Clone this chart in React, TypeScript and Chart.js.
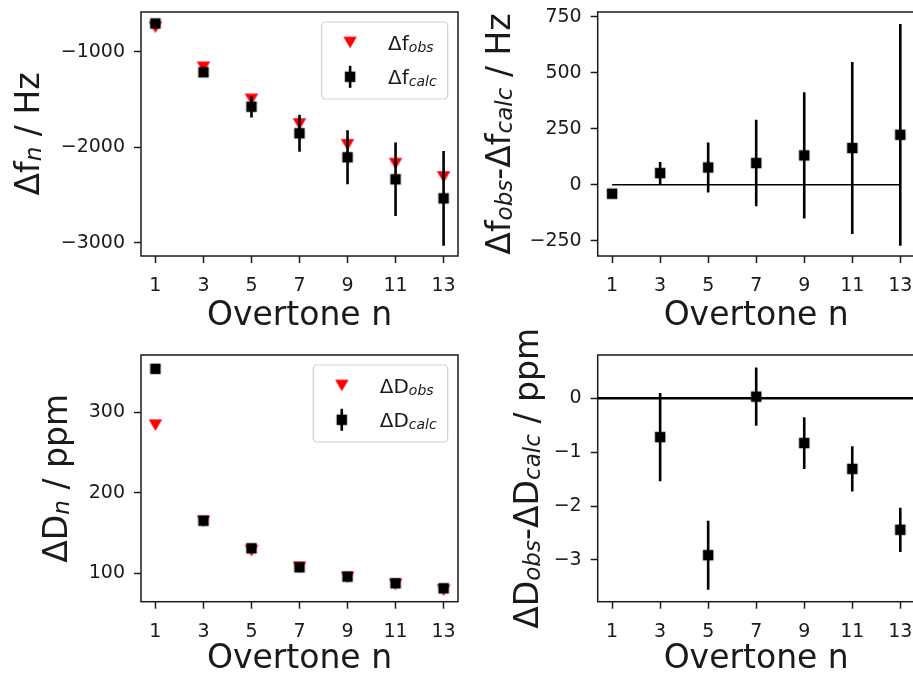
import React, { useEffect, useRef } from "react";
import { Chart, registerables } from "chart.js";

Chart.register(...registerables);

// ---------------------------------------------------------------------------
// Data
// ---------------------------------------------------------------------------
const overtones = [1, 3, 5, 7, 9, 11, 13];

// Frequency shifts (Hz)
const dfObs = [-745, -1163, -1498, -1756, -1973, -2170, -2310];
const dfCalc = [-705, -1215, -1575, -1853, -2104, -2334, -2533];
const dfCalcErr = [12, 50, 112, 193, 282, 384, 495];

// Frequency residuals obs - calc (Hz)
const dfResid = [-40, 52, 77, 97, 131, 164, 223];
const dfResidErr = [12, 50, 112, 193, 282, 384, 495];

// Dissipation shifts (ppm)
const dDObs = [284, 164.6, 128.2, 107.5, 95.0, 86.3, 79.0];
const dDCalc = [354, 165.3, 131.1, 107.5, 95.8, 87.6, 81.4];
const dDCalcErr = [0.9, 0.82, 0.64, 0.54, 0.48, 0.42, 0.41];

// Dissipation residuals obs - calc (ppm); fundamental left out
const dDResidN = [3, 5, 7, 9, 11, 13];
const dDResid = [-0.72, -2.91, 0.03, -0.83, -1.31, -2.44];
const dDResidErr = [0.82, 0.64, 0.54, 0.48, 0.42, 0.41];

// Tick values
const xTicks = [1, 3, 5, 7, 9, 11, 13];
const dfTicks = [-3000, -2000, -1000];
const dfResidTicks = [-250, 0, 250, 500, 750];
const dDTicks = [100, 200, 300];
const dDResidTicks = [-3, -2, -1, 0];

// Text (runs of [text, isSubscript])
type Run = [string, boolean];
const xTitle: Run[] = [["Overtone n", false]];
const dfTitle: Run[] = [["Δf", false], ["n", true], [" / Hz", false]];
const dfResidTitle: Run[] = [["Δf", false], ["obs", true], ["-Δf", false], ["calc", true], [" / Hz", false]];
const dDTitle: Run[] = [["ΔD", false], ["n", true], [" / ppm", false]];
const dDResidTitle: Run[] = [["ΔD", false], ["obs", true], ["-ΔD", false], ["calc", true], [" / ppm", false]];
const dfObsName: Run[] = [["Δf", false], ["obs", true]];
const dfCalcName: Run[] = [["Δf", false], ["calc", true]];
const dDObsName: Run[] = [["ΔD", false], ["obs", true]];
const dDCalcName: Run[] = [["ΔD", false], ["calc", true]];

// ---------------------------------------------------------------------------
// Styling / geometry
// ---------------------------------------------------------------------------
const FONT = '"DejaVu Sans", sans-serif';
const INK = "#1a1a1a";
const PAGE_W = 913;
const PAGE_H = 674;
const CANVAS_W = 930;
const Y_AXIS_W = 100;
const X_AXIS_H = 50;
const TICK_FS = 19;
const TITLE_FS = 33;
const LEGEND_FS = 20;
const X_RANGE: [number, number] = [0.4, 13.6];

type Area = { l: number; t: number; r: number; b: number };
type LegendRow = { runs: Run[]; kind: "tri" | "sq" };

interface Panel {
  area: Area;
  yMin: number;
  yMax: number;
  yTicks: number[];
  yTitle: Run[];
  yTitleX: number;
  xTitleY: number;
  datasets: any[];
  legend?: LegendRow[];
}

// ---------------------------------------------------------------------------
// Marker sprites
// ---------------------------------------------------------------------------
function triangleMarker(): HTMLCanvasElement {
  const c = document.createElement("canvas");
  c.width = 16;
  c.height = 14;
  const g = c.getContext("2d")!;
  const w = 13.5, h = 11.5, cx = 8, cy = 7;
  g.fillStyle = "#ff0000";
  g.beginPath();
  g.moveTo(cx - w / 2, cy - h / 2);
  g.lineTo(cx + w / 2, cy - h / 2);
  g.lineTo(cx, cy + h / 2);
  g.closePath();
  g.fill();
  return c;
}

function squareMarker(): HTMLCanvasElement {
  const c = document.createElement("canvas");
  c.width = 14;
  c.height = 14;
  const g = c.getContext("2d")!;
  const s = 10.5;
  g.fillStyle = "#000000";
  g.fillRect(7 - s / 2, 7 - s / 2, s, s);
  return c;
}

// ---------------------------------------------------------------------------
// Helpers
// ---------------------------------------------------------------------------
const pts = (xs: number[], ys: number[]) => xs.map((x, i) => ({ x, y: ys[i] }));

function errSegments(xs: number[], ys: number[], es: number[]) {
  const out: { x: number; y: number | null }[] = [];
  xs.forEach((x, i) => {
    out.push({ x, y: ys[i] - es[i] }, { x, y: ys[i] + es[i] }, { x, y: null });
  });
  return out;
}

const fmt = (v: number) => (v < 0 ? "\u2212" + Math.abs(v) : String(v));

function setRunFont(ctx: CanvasRenderingContext2D, size: number, sub: boolean) {
  ctx.font = sub ? `italic ${size * 0.7}px ${FONT}` : `${size}px ${FONT}`;
}

function runsWidth(ctx: CanvasRenderingContext2D, runs: Run[], size: number) {
  let w = 0;
  for (const [t, sub] of runs) {
    setRunFont(ctx, size, sub);
    w += ctx.measureText(t).width;
  }
  return w;
}

function drawRuns(ctx: CanvasRenderingContext2D, runs: Run[], size: number, x: number, y: number) {
  let cx = x;
  ctx.textAlign = "left";
  ctx.textBaseline = "alphabetic";
  for (const [t, sub] of runs) {
    setRunFont(ctx, size, sub);
    ctx.fillText(t, cx, y + (sub ? size * 0.07 : 0));
    cx += ctx.measureText(t).width;
  }
}

function roundRectPath(ctx: CanvasRenderingContext2D, x: number, y: number, w: number, h: number, r: number) {
  ctx.beginPath();
  ctx.moveTo(x + r, y);
  ctx.lineTo(x + w - r, y);
  ctx.arcTo(x + w, y, x + w, y + r, r);
  ctx.lineTo(x + w, y + h - r);
  ctx.arcTo(x + w, y + h, x + w - r, y + h, r);
  ctx.lineTo(x + r, y + h);
  ctx.arcTo(x, y + h, x, y + h - r, r);
  ctx.lineTo(x, y + r);
  ctx.arcTo(x, y, x + r, y, r);
  ctx.closePath();
}

function decoPlugin(p: Panel, tri: HTMLCanvasElement, sq: HTMLCanvasElement) {
  return {
    id: "panelDeco",
    afterDatasetsDraw(chart: any) {
      const ctx: CanvasRenderingContext2D = chart.ctx;
      const a = chart.chartArea;
      // axes frame
      ctx.save();
      ctx.strokeStyle = INK;
      ctx.lineWidth = 1.5;
      ctx.strokeRect(a.left, a.top, a.right - a.left, a.bottom - a.top);
      ctx.restore();

      // legend
      if (p.legend) {
        ctx.save();
        const textW = Math.max(...p.legend.map((r) => runsWidth(ctx, r.runs, LEGEND_FS)));
        const right = a.right - 10.3;
        const top = a.top + 10;
        const width = 66.5 + textW + 11;
        const height = 77;
        const left = right - width;
        roundRectPath(ctx, left, top, width, height, 4);
        ctx.fillStyle = "rgba(255,255,255,0.8)";
        ctx.fill();
        ctx.strokeStyle = "#d0d0d0";
        ctx.lineWidth = 1.2;
        ctx.stroke();
        p.legend.forEach((row, i) => {
          const cy = top + 20.5 + i * 34.3;
          const mx = left + 28.5;
          if (row.kind === "tri") {
            ctx.drawImage(tri, mx - tri.width / 2, cy - tri.height / 2);
          } else {
            ctx.strokeStyle = "#000";
            ctx.lineWidth = 2.6;
            ctx.beginPath();
            ctx.moveTo(mx, cy - 11);
            ctx.lineTo(mx, cy + 11);
            ctx.stroke();
            ctx.drawImage(sq, mx - sq.width / 2, cy - sq.height / 2);
          }
          ctx.fillStyle = INK;
          drawRuns(ctx, row.runs, LEGEND_FS, left + 66.5, cy + 0.38 * LEGEND_FS);
        });
        ctx.restore();
      }
    },
    afterDraw(chart: any) {
      const ctx: CanvasRenderingContext2D = chart.ctx;
      const a = chart.chartArea;
      ctx.save();
      ctx.fillStyle = INK;
      // x title
      const xw = runsWidth(ctx, xTitle, TITLE_FS);
      drawRuns(ctx, xTitle, TITLE_FS, (a.left + a.right) / 2 - xw / 2, p.xTitleY);
      // y title (rotated)
      const yw = runsWidth(ctx, p.yTitle, TITLE_FS);
      ctx.translate(p.yTitleX, (a.top + a.bottom) / 2);
      ctx.rotate(-Math.PI / 2);
      drawRuns(ctx, p.yTitle, TITLE_FS, -yw / 2, 0);
      ctx.restore();
    },
  };
}

function makeChart(canvas: HTMLCanvasElement, p: Panel, tri: HTMLCanvasElement, sq: HTMLCanvasElement) {
  const tickFont = { family: FONT, size: TICK_FS };
  const grid = {
    drawOnChartArea: false,
    drawTicks: true,
    tickLength: 7,
    tickWidth: 1.5,
    tickColor: INK,
    color: INK,
  };
  const zeroPad = (s: any) => {
    s.paddingLeft = 0;
    s.paddingRight = 0;
    s.paddingTop = 0;
    s.paddingBottom = 0;
  };
  return new Chart(canvas, {
    type: "scatter",
    data: { datasets: p.datasets },
    options: {
      animation: false,
      responsive: false,
      events: [],
      layout: {
        padding: {
          left: p.area.l - Y_AXIS_W,
          top: p.area.t,
          right: CANVAS_W - p.area.r,
          bottom: PAGE_H - p.area.b - X_AXIS_H,
        },
      },
      plugins: { legend: { display: false }, tooltip: { enabled: false } },
      scales: {
        x: {
          type: "linear",
          position: "bottom",
          bounds: "data",
          min: X_RANGE[0],
          max: X_RANGE[1],
          grid,
          border: { display: false },
          ticks: {
            autoSkip: false,
            maxRotation: 0,
            padding: 12,
            color: INK,
            font: tickFont,
            callback: (v: any) => fmt(Number(v)),
          },
          afterBuildTicks: (s: any) => {
            s.ticks = xTicks.map((value) => ({ value }));
          },
          afterFit: (s: any) => {
            s.height = X_AXIS_H;
            zeroPad(s);
          },
        },
        y: {
          type: "linear",
          position: "left",
          bounds: "data",
          min: p.yMin,
          max: p.yMax,
          grid,
          border: { display: false },
          ticks: {
            autoSkip: false,
            padding: 9,
            color: INK,
            font: tickFont,
            callback: (v: any) => fmt(Number(v)),
          },
          afterBuildTicks: (s: any) => {
            s.ticks = p.yTicks.map((value) => ({ value }));
          },
          afterFit: (s: any) => {
            s.width = Y_AXIS_W;
            zeroPad(s);
          },
        },
      },
    } as any,
    plugins: [decoPlugin(p, tri, sq)],
  });
}

// ---------------------------------------------------------------------------
// Panels
// ---------------------------------------------------------------------------
function errDataset(xs: number[], ys: number[], es: number[]) {
  return {
    data: errSegments(xs, ys, es),
    showLine: true,
    spanGaps: false,
    pointRadius: 0,
    borderColor: "#000",
    borderWidth: 2.6,
    borderCapStyle: "butt",
    order: 2,
  };
}

function markerDataset(xs: number[], ys: number[], sprite: HTMLCanvasElement, order: number) {
  return {
    data: pts(xs, ys),
    pointStyle: sprite,
    pointRadius: 7,
    borderWidth: 0,
    order,
  };
}

function buildPanels(tri: HTMLCanvasElement, sq: HTMLCanvasElement): Panel[] {
  return [
    {
      area: { l: 141, t: 12, r: 458, b: 256 },
      yMin: -3136,
      yMax: -585,
      yTicks: dfTicks,
      yTitle: dfTitle,
      yTitleX: 38.5,
      xTitleY: 325,
      datasets: [
        markerDataset(overtones, dfCalc, sq, 1),
        errDataset(overtones, dfCalc, dfCalcErr),
        markerDataset(overtones, dfObs, tri, 3),
      ],
      legend: [
        { runs: dfObsName, kind: "tri" },
        { runs: dfCalcName, kind: "sq" },
      ],
    },
    {
      area: { l: 597.7, t: 12, r: 914.7, b: 256 },
      yMin: -318,
      yMax: 771,
      yTicks: dfResidTicks,
      yTitle: dfResidTitle,
      yTitleX: 510,
      xTitleY: 325,
      datasets: [
        markerDataset(overtones, dfResid, sq, 1),
        errDataset(overtones, dfResid, dfResidErr),
        {
          data: [
            { x: overtones[0], y: 0 },
            { x: overtones[overtones.length - 1], y: 0 },
          ],
          showLine: true,
          pointRadius: 0,
          borderColor: "#000",
          borderWidth: 1.5,
          order: 3,
        },
      ],
    },
    {
      area: { l: 141, t: 355, r: 458, b: 601.7 },
      yMin: 64.7,
      yMax: 371.2,
      yTicks: dDTicks,
      yTitle: dDTitle,
      yTitleX: 66.5,
      xTitleY: 668,
      datasets: [
        markerDataset(overtones, dDCalc, sq, 1),
        errDataset(overtones, dDCalc, dDCalcErr),
        markerDataset(overtones, dDObs, tri, 3),
      ],
      legend: [
        { runs: dDObsName, kind: "tri" },
        { runs: dDCalcName, kind: "sq" },
      ],
    },
    {
      area: { l: 597.7, t: 355, r: 914.7, b: 601.7 },
      yMin: -3.774,
      yMax: 0.803,
      yTicks: dDResidTicks,
      yTitle: dDResidTitle,
      yTitleX: 538,
      xTitleY: 668,
      datasets: [
        markerDataset(dDResidN, dDResid, sq, 1),
        errDataset(dDResidN, dDResid, dDResidErr),
        {
          data: [
            { x: X_RANGE[0], y: 0 },
            { x: X_RANGE[1], y: 0 },
          ],
          showLine: true,
          pointRadius: 0,
          borderColor: "#000",
          borderWidth: 2.5,
          order: 3,
        },
      ],
    },
  ];
}

function PanelCanvas({ index }: { index: number }) {
  const ref = useRef<HTMLCanvasElement>(null);
  useEffect(() => {
    const tri = triangleMarker();
    const sq = squareMarker();
    const panel = buildPanels(tri, sq)[index];
    const chart = makeChart(ref.current!, panel, tri, sq);
    return () => chart.destroy();
  }, [index]);
  return (
    <canvas
      ref={ref}
      width={CANVAS_W}
      height={PAGE_H}
      style={{ position: "absolute", left: 0, top: 0, pointerEvents: "none" }}
    />
  );
}

export default function App() {
  return (
    <div
      style={{
        position: "fixed",
        left: 0,
        top: 0,
        width: PAGE_W,
        height: PAGE_H,
        overflow: "hidden",
        background: "#ffffff",
      }}
    >
      {[0, 1, 2, 3].map((i) => (
        <PanelCanvas key={i} index={i} />
      ))}
    </div>
  );
}
